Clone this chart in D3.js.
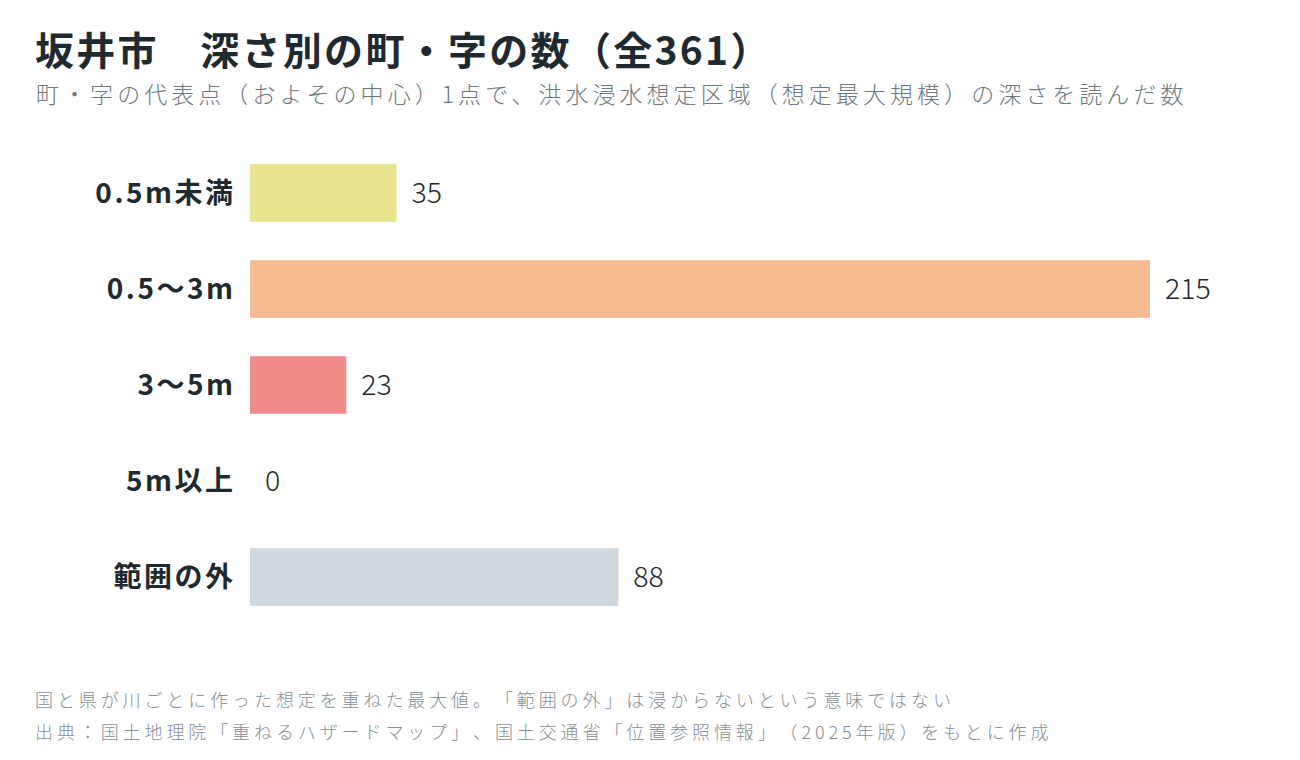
<!DOCTYPE html>
<html>
<head>
<meta charset="utf-8">
<script src="https://cdn.jsdelivr.net/npm/d3@7"></script>
<style>
  body { margin: 0; background: #fff; }
  svg text {
    font-family: "Noto Sans CJK JP", "Noto Sans", sans-serif;
    text-spacing-trim: space-all;
  }
</style>
</head>
<body>
<div id="chart"></div>
<script>
// data
var categories = ["0.5m未満", "0.5〜3m", "3〜5m", "5m以上", "範囲の外"];
var counts = [35, 215, 23, 0, 88];
var colours = ["#e9e48f", "#f4ba91", "#f08b8b", "#f08b8b", "#cfd8de"];

var titleText = "坂井市　深さ別の町・字の数（全361）";
var subtitleText = "町・字の代表点（およその中心）1点で、洪水浸水想定区域（想定最大規模）の深さを読んだ数";
var notes = [
  "国と県が川ごとに作った想定を重ねた最大値。「範囲の外」は浸からないという意味ではない",
  "出典：国土地理院「重ねるハザードマップ」、国土交通省「位置参照情報」（2025年版）をもとに作成"
];

var width = 1300, height = 760;

var svg = d3.select("#chart").append("svg")
  .attr("width", width)
  .attr("height", height);

var data = categories.map(function (c, i) {
  return { cat: c, n: counts[i], col: colours[i] };
});

var x = d3.scaleLinear().domain([0, 215]).range([250, 1150]);
var y = d3.scaleBand().domain(categories).range([145, 625])
  .paddingInner(0.4).paddingOuter(0.2);

// title
svg.append("text")
  .attr("x", 35).attr("y", 65)
  .attr("font-size", 39).attr("font-weight", 700)
  .attr("letter-spacing", 2.3)
  .attr("fill", "#1f2a30")
  .text(titleText);

svg.append("text")
  .attr("x", 36).attr("y", 103)
  .attr("font-size", 23).attr("font-weight", 300)
  .attr("letter-spacing", 4.05)
  .attr("fill", "#6d787e")
  .text(subtitleText);

// bars
svg.selectAll("rect.bar")
  .data(data)
  .enter()
  .append("rect")
  .attr("class", "bar")
  .attr("x", x(0))
  .attr("y", function (d) { return y(d.cat); })
  .attr("width", function (d) { return x(d.n) - x(0); })
  .attr("height", y.bandwidth())
  .attr("fill", function (d) { return d.col; });

// category labels
svg.selectAll("text.cat")
  .data(data)
  .enter()
  .append("text")
  .attr("class", "cat")
  .attr("x", 235.5)
  .attr("y", function (d) { return y(d.cat) + y.bandwidth() / 2; })
  .attr("dy", "0.36em")
  .attr("text-anchor", "end")
  .attr("font-size", 28).attr("font-weight", 700)
  .attr("letter-spacing", 2.5)
  .attr("fill", "#1f2a30")
  .text(function (d) { return d.cat; });

// value labels
svg.selectAll("text.val")
  .data(data)
  .enter()
  .append("text")
  .attr("class", "val")
  .attr("x", function (d) { return x(d.n) + 15; })
  .attr("y", function (d) { return y(d.cat) + y.bandwidth() / 2; })
  .attr("dy", "0.36em")
  .attr("font-size", 28.5).attr("font-weight", 300)
  .attr("fill", "#1f2a30")
  .text(function (d) { return d.n; });

// notes
svg.selectAll("text.note")
  .data(notes)
  .enter()
  .append("text")
  .attr("class", "note")
  .attr("x", 35)
  .attr("y", function (d, i) { return 707 + i * 32; })
  .attr("font-size", 18).attr("font-weight", 300)
  .attr("letter-spacing", 3.9)
  .attr("fill", "#868f95")
  .text(function (d) { return d; });
</script>
</body>
</html>
